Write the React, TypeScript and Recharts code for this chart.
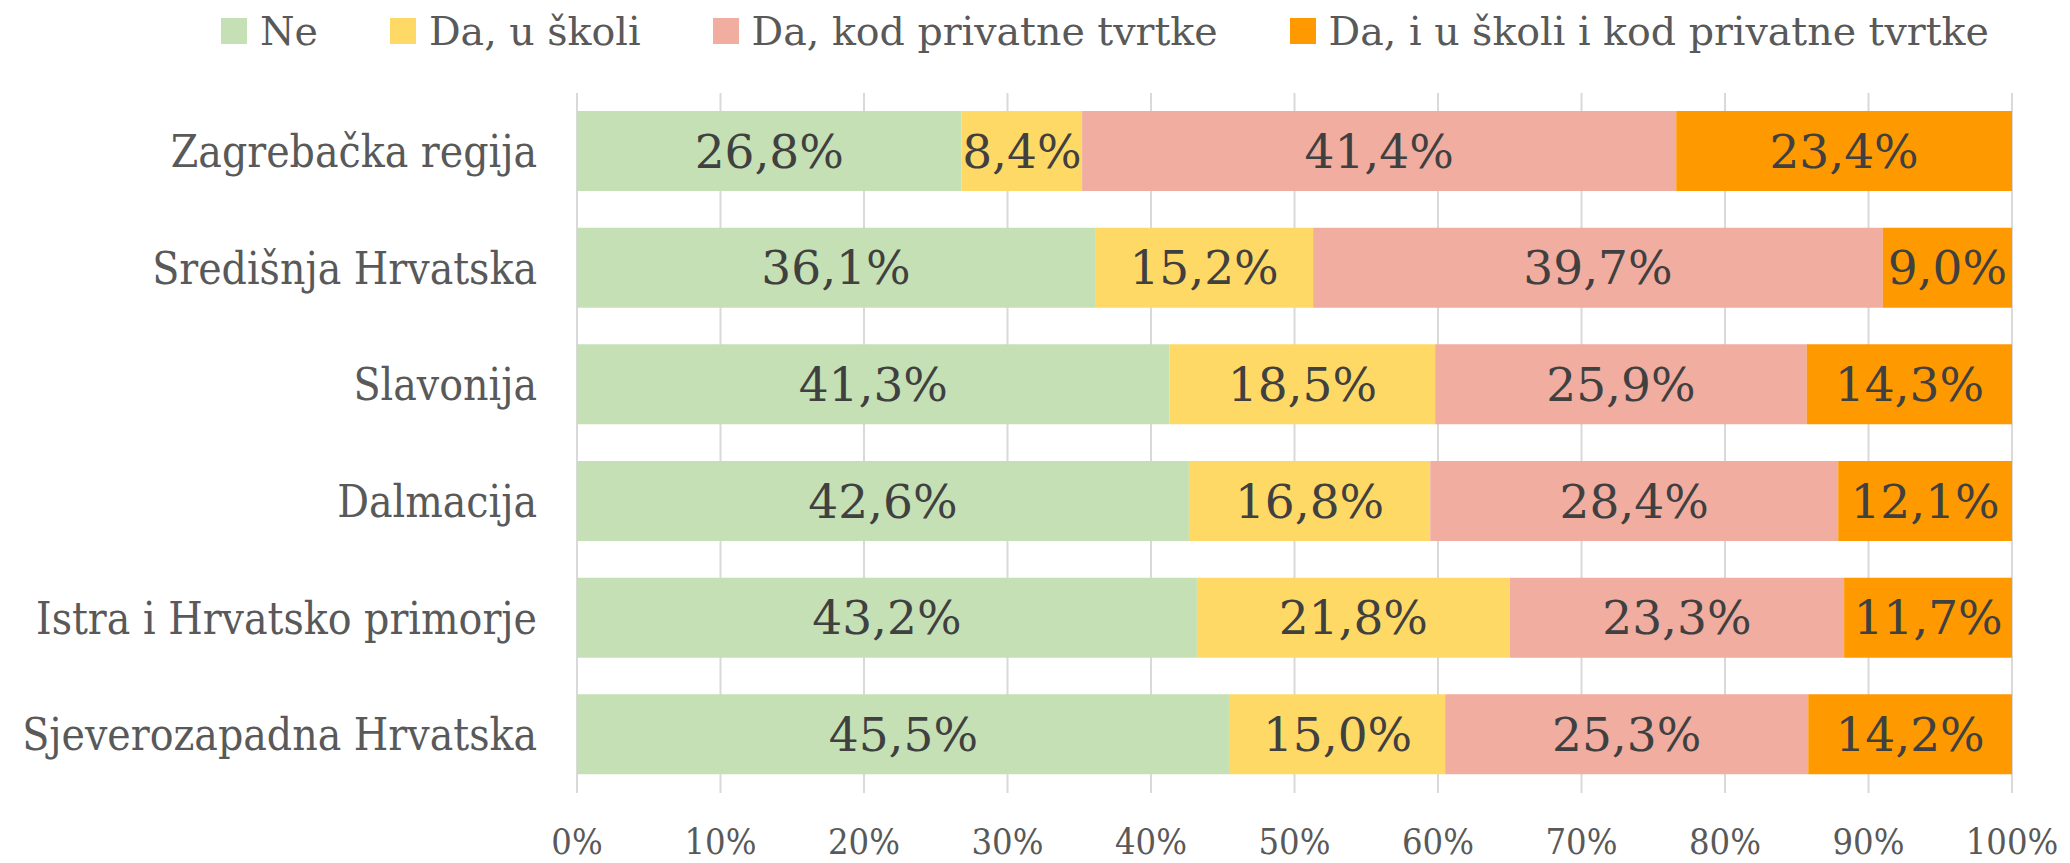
import React from 'react';
import {
  BarChart,
  Bar,
  XAxis,
  YAxis,
  CartesianGrid,
  LabelList,
} from 'recharts';

const regions = [
  'Zagrebačka regija',
  'Središnja Hrvatska',
  'Slavonija',
  'Dalmacija',
  'Istra i Hrvatsko primorje',
  'Sjeverozapadna Hrvatska',
];

const ne = [26.8, 36.1, 41.3, 42.6, 43.2, 45.5];
const daSkola = [8.4, 15.2, 18.5, 16.8, 21.8, 15.0];
const daTvrtka = [41.4, 39.7, 25.9, 28.4, 23.3, 25.3];
const daOboje = [23.4, 9.0, 14.3, 12.1, 11.7, 14.2];

const xTicks = [0, 0.1, 0.2, 0.3, 0.4, 0.5, 0.6, 0.7, 0.8, 0.9, 1];

const series = [
  { key: 'ne', name: 'Ne', color: '#C5E0B4' },
  { key: 'daSkola', name: 'Da, u školi', color: '#FFD966' },
  { key: 'daTvrtka', name: 'Da, kod privatne tvrtke', color: '#F1ADA0' },
  { key: 'daOboje', name: 'Da, i u školi i kod privatne tvrtke', color: '#FF9900' },
];

const data = regions.map((region, i) => ({
  region,
  ne: ne[i],
  daSkola: daSkola[i],
  daTvrtka: daTvrtka[i],
  daOboje: daOboje[i],
}));

const serif = '"DejaVu Serif", serif';
const condensed = '"DejaVu Serif Condensed", "DejaVu Serif", serif';

const fmt = (v: number) => v.toFixed(1).replace('.', ',') + '%';

export default function App() {
  return (
    <div style={{ position: 'relative', width: 2054, height: 855 }}>
      {/* legenda iznad grafa */}
      <div
        style={{
          position: 'absolute',
          top: 3,
          left: 213,
          display: 'flex',
          alignItems: 'center',
          gap: 72,
          height: 40,
          fontFamily: serif,
          fontSize: 39.5,
          color: '#595959',
          whiteSpace: 'nowrap',
        }}
      >
        {series.map((s) => (
          <div key={s.key} style={{ display: 'flex', alignItems: 'center' }}>
            <div style={{ width: 26, height: 26, background: s.color, marginRight: 13 }} />
            <span style={{ lineHeight: '40px' }}>{s.name}</span>
          </div>
        ))}
      </div>
      <BarChart
        width={2054}
        height={855}
        data={data}
        layout="vertical"
        stackOffset="expand"
        margin={{ top: 85, right: 50, bottom: 8, left: 0 }}
      >
        <CartesianGrid horizontal={false} vertical={true} stroke="#D9D9D9" strokeWidth={2} />
        <XAxis
          type="number"
          domain={[0, 1]}
          ticks={xTicks}
          tickFormatter={(v) => Math.round(v * 100) + '%'}
          axisLine={false}
          tickLine={false}
          tickSize={0}
          tickMargin={35}
          height={62}
          interval={0}
          tick={{ fill: '#595959', fontSize: 36, fontFamily: condensed }}
        />
        <YAxis
          type="category"
          dataKey="region"
          width={569}
          axisLine={false}
          tickLine={false}
          tickSize={0}
          tickMargin={40}
          interval={0}
          tick={{ fill: '#595959', fontSize: 44, fontFamily: condensed }}
        />
        {series.map((s) => (
          <Bar
            key={s.key}
            dataKey={s.key}
            name={s.name}
            stackId="a"
            fill={s.color}
            barSize={80}
            isAnimationActive={false}
          >
            <LabelList
              dataKey={s.key}
              position="center"
              formatter={(v: number) => fmt(Number(v))}
              fill="#404040"
              fontSize={47}
              fontFamily={serif}
            />
          </Bar>
        ))}
      </BarChart>
    </div>
  );
}
